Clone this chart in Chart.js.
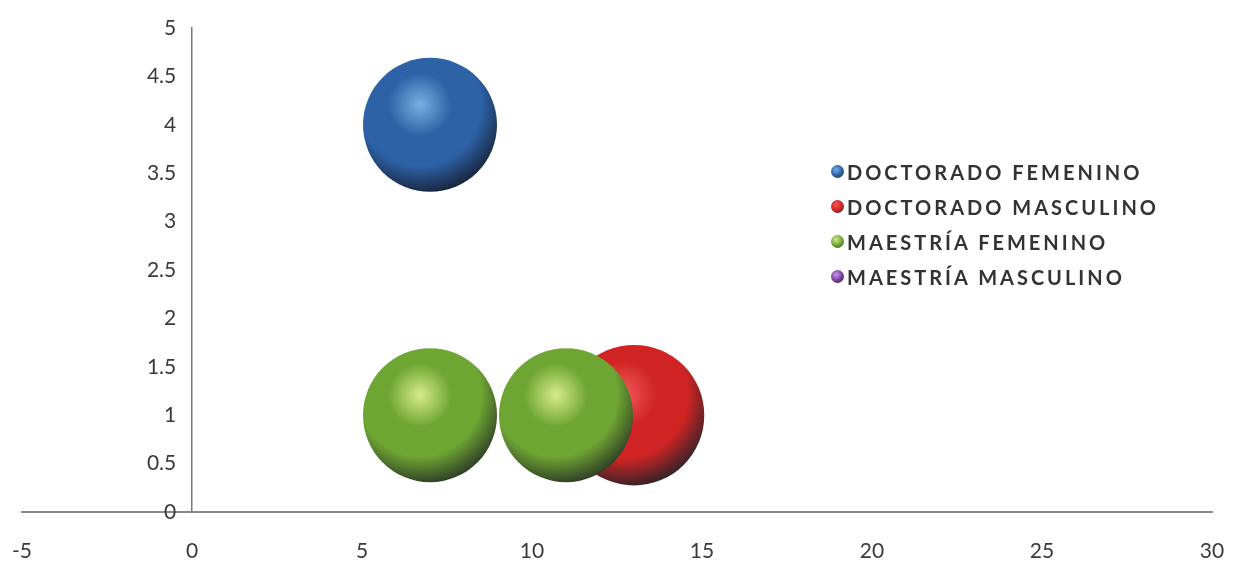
<!DOCTYPE html>
<html>
<head>
<meta charset="utf-8">
<script src="https://cdn.jsdelivr.net/npm/chart.js@4.4.0/dist/chart.umd.min.js"></script>
<style>
  html, body { margin: 0; padding: 0; background: #fff; }
  #wrap { position: relative; width: 1242px; height: 565px; }
  #leyenda {
    position: absolute; left: 831px; top: 154px;
    font-family: Lato, "Open Sans", sans-serif; font-weight: bold;
    font-size: 20px; color: #333; letter-spacing: 3px;
  }
  .item { display: flex; align-items: center; height: 35px; }
  .punto { width: 13px; height: 13px; border-radius: 50%; margin-right: 3px; }
</style>
</head>
<body>
<div id="wrap">
  <canvas id="grafico" width="1242" height="565"></canvas>
  <div id="leyenda"></div>
</div>
<script>
// series
const series = ['DOCTORADO FEMENINO', 'DOCTORADO MASCULINO', 'MAESTRÍA FEMENINO', 'MAESTRÍA MASCULINO'];

const docFemX = [7];
const docFemY = [4];
const docFemTam = [1];

const docMascX = [13];
const docMascY = [1];
const docMascTam = [1.1];

const maeFemX = [7, 11];
const maeFemY = [1, 1];
const maeFemTam = [1, 1];

const maeMascX = [];
const maeMascY = [];
const maeMascTam = [];

// ejes
const xMin = -5, xMax = 30, xPaso = 5;
const yMin = 0, yMax = 5, yPaso = 0.5;

const colores = [
  { claro: '#79afe0', base: '#2d62a6', oscuro: '#17233a' },
  { claro: '#f25a5a', base: '#d02424', oscuro: '#2e2228' },
  { claro: '#d8eb8c', base: '#6fa633', oscuro: '#2c3b26' },
  { claro: '#c79be0', base: '#7a3fa0', oscuro: '#2a1b35' }
];

const radioBase = 67;

function puntos(xs, ys, tams) {
  return xs.map((x, i) => ({ x: x, y: ys[i], tam: tams[i] }));
}

function esfera(c) {
  return function (ctx) {
    const chart = ctx.chart;
    if (!chart.chartArea || !ctx.raw) return c.base;
    const x = chart.scales.x.getPixelForValue(ctx.raw.x);
    const y = chart.scales.y.getPixelForValue(ctx.raw.y);
    const r = radioBase * Math.sqrt(ctx.raw.tam);
    const hx = x - r * 0.15, hy = y - r * 0.3;
    const g = chart.ctx.createRadialGradient(hx, hy, 0, hx, hy, r * 1.35);
    g.addColorStop(0, c.claro);
    g.addColorStop(0.35, c.base);
    g.addColorStop(0.68, c.base);
    g.addColorStop(1, c.oscuro);
    return g;
  };
}

const datos = [
  puntos(docFemX, docFemY, docFemTam),
  puntos(docMascX, docMascY, docMascTam),
  puntos(maeFemX, maeFemY, maeFemTam),
  puntos(maeMascX, maeMascY, maeMascTam)
];
// orden de dibujo: el verde tapa al rojo
const ordenDibujo = [0, 3, 1, 2];

const fuenteEje = { family: 'Lato, "Open Sans", sans-serif', size: 21 };

new Chart(document.getElementById('grafico').getContext('2d'), {
  type: 'bubble',
  data: {
    datasets: series.map((nombre, i) => ({
      label: nombre,
      data: datos[i],
      order: ordenDibujo[i],
      backgroundColor: esfera(colores[i]),
      borderWidth: 0,
      clip: false,
      radius: ctx => radioBase * Math.sqrt(ctx.raw ? ctx.raw.tam : 1)
    }))
  },
  options: {
    responsive: false,
    animation: false,
    layout: { autoPadding: false, padding: { top: 28, right: 30, left: 22, bottom: -25 } },
    plugins: {
      legend: { display: false },
      tooltip: { enabled: false }
    },
    scales: {
      x: {
        type: 'linear',
        min: xMin, max: xMax,
        position: 'bottom',
        grid: { display: false, drawTicks: false },
        border: { color: '#8a8a8a', width: 2 },
        // la separacion vertical se hace con lineHeight para no ensanchar los margenes
        ticks: { stepSize: xPaso, padding: 0, color: '#3a3a3a', font: Object.assign({ lineHeight: '78px' }, fuenteEje) }
      },
      y: {
        type: 'linear',
        min: yMin, max: yMax,
        position: { x: 0 },
        grid: { display: false, drawTicks: false },
        border: { color: '#7a7a7a', width: 1.5 },
        ticks: {
          stepSize: yPaso, color: '#3a3a3a', font: fuenteEje,
          // el eje en x=0 no aplica padding: se separa con espacios
          callback: v => String(v) + '\u2003'
        }
      }
    }
  }
});

// leyenda
const leyenda = document.getElementById('leyenda');
series.forEach((nombre, i) => {
  const c = colores[i];
  const item = document.createElement('div');
  item.className = 'item';
  const p = document.createElement('span');
  p.className = 'punto';
  p.style.background = 'radial-gradient(circle at 40% 35%, ' + c.claro + ' 0%, ' + c.base + ' 50%, ' + c.oscuro + ' 100%)';
  const t = document.createElement('span');
  t.textContent = nombre;
  item.appendChild(p);
  item.appendChild(t);
  leyenda.appendChild(item);
});
</script>
</body>
</html>
